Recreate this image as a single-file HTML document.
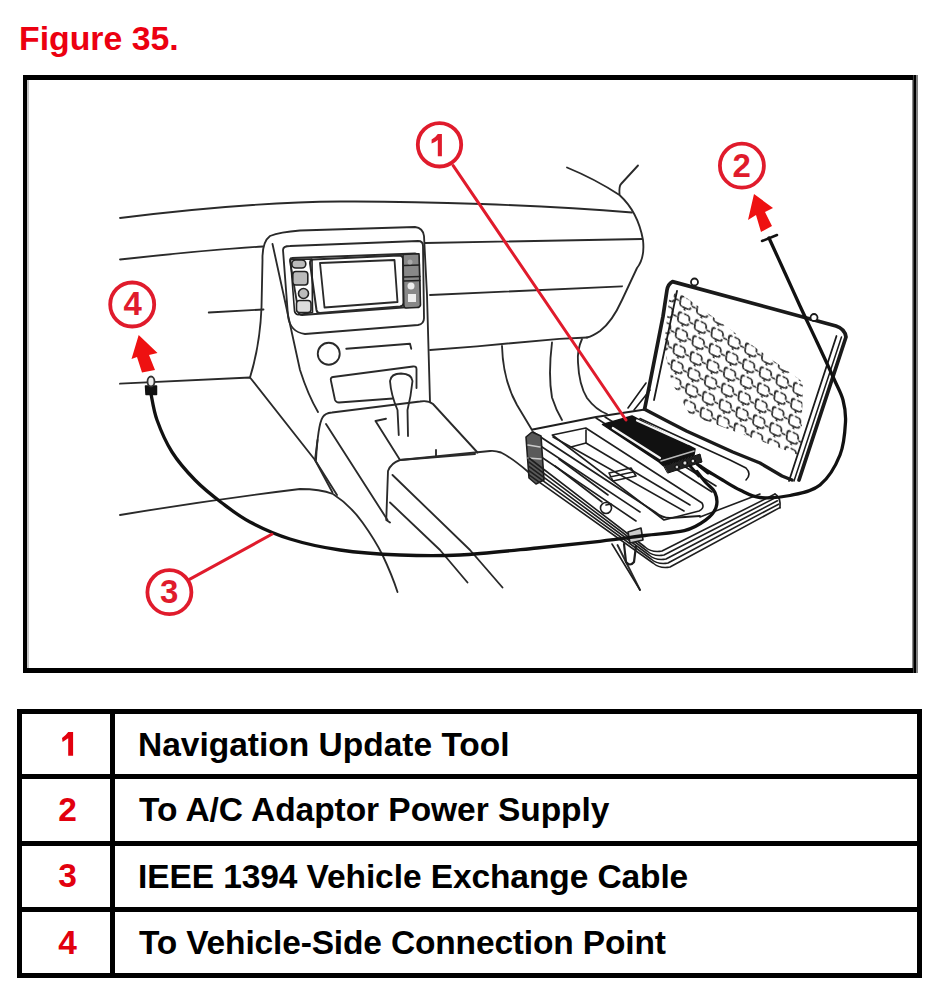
<!DOCTYPE html>
<html><head><meta charset="utf-8">
<style>
html,body{margin:0;padding:0;background:#fff;}
body{width:948px;height:1001px;position:relative;overflow:hidden;font-family:"Liberation Sans",sans-serif;}
.t{position:absolute;font-weight:bold;line-height:1;white-space:nowrap;}
.title{left:19px;top:22px;font-size:33.8px;color:#ec0010;}
.frame{position:absolute;left:23px;top:75px;width:887px;height:590px;border:4px solid #000;border-right-width:4px;}
.tb{position:absolute;background:#000;}
.num{position:absolute;left:22px;width:91px;text-align:center;color:#e2000e;font-size:33.5px;font-weight:bold;line-height:1;}
.lbl{position:absolute;left:138px;color:#000;font-size:33.5px;font-weight:bold;line-height:1;white-space:nowrap;}
svg{position:absolute;left:0;top:0;}
</style></head><body>
<div class="t title">Figure 35.</div>
<div class="tb" style="left:23px;top:75px;width:895px;height:5px"></div>
<div class="tb" style="left:23px;top:668px;width:895px;height:5px"></div>
<div class="tb" style="left:23px;top:75px;width:4px;height:598px"></div>
<div class="tb" style="left:27px;top:80px;width:2px;height:588px;background:#c4c4c4"></div>
<div class="tb" style="left:912px;top:80px;width:1px;height:588px;background:#8a8a8a"></div>
<div class="tb" style="left:913px;top:75px;width:1px;height:598px;background:#404040"></div>
<div class="tb" style="left:914px;top:75px;width:2px;height:598px"></div>
<div class="tb" style="left:916px;top:75px;width:2px;height:598px;background:#808080"></div>
<!-- table lines -->
<div class="tb" style="left:17px;top:709px;width:905px;height:5px"></div>
<div class="tb" style="left:17px;top:973px;width:905px;height:5px"></div>
<div class="tb" style="left:17px;top:709px;width:5px;height:269px"></div>
<div class="tb" style="left:917px;top:709px;width:5px;height:269px"></div>
<div class="tb" style="left:110px;top:709px;width:5px;height:269px"></div>
<div class="tb" style="left:17px;top:774px;width:905px;height:5px"></div>
<div class="tb" style="left:17px;top:841px;width:905px;height:5px"></div>
<div class="tb" style="left:17px;top:907px;width:905px;height:5px"></div>
<svg style="position:absolute;left:0;top:0" width="948" height="1001"><path d="M68.2,732 L73.1,732 L73.1,755.8 L68.2,755.8 L68.2,738.3 L62.6,742 L62,738 Q66,735.2 68.2,732 Z" fill="#e2000e"/></svg>
<div class="num" style="top:793.2px">2</div>
<div class="num" style="top:859.4px">3</div>
<div class="num" style="top:926px">4</div>
<div class="lbl" style="top:727.6px">Navigation Update Tool</div>
<div class="lbl" style="top:793.2px;left:139px;letter-spacing:-0.04px">To A/C Adaptor Power Supply</div>
<div class="lbl" style="top:859.6px;letter-spacing:-0.09px">IEEE 1394 Vehicle Exchange Cable</div>
<div class="lbl" style="top:926.3px;left:139px;letter-spacing:-0.155px">To Vehicle-Side Connection Point</div>
<svg width="948" height="1001" viewBox="0 0 948 1001" fill="none" stroke="#000" stroke-linecap="round" stroke-linejoin="round">
<defs>
<pattern id="keys" patternUnits="userSpaceOnUse" width="20" height="20" patternTransform="matrix(0.84 0.39 -0.11 0.8 679 291)">
<path d="M6,4 Q3,4 3,8 L3,13 Q3,16.5 6,16.5 L12,16.5 Q15,16.5 15.5,14 M16,9 L16,7 Q15.5,4 13,4 L10,4 M17.5,11 L20,11 M0,11 L0.5,11 M9,18.5 L9,20" fill="none" stroke="#2a2a2a" stroke-width="2.1" stroke-dasharray="6 2"/>
</pattern>
</defs>
<g stroke="#2a2a2a" stroke-width="1.85">
<!-- dashboard lines -->
<path d="M120,218 C200,208 280,202 340,201.5 C420,201 540,205 632,212.5"/>
<path d="M120,259.5 C170,254 220,249 263,246.5"/>
<path d="M425,243 L642,239"/>
<path d="M208.75,312.5 L263.5,309.5"/>
<path d="M430,295 L622,286.3"/>
<path d="M430,350 L477,346.3 L559.5,338.8 L587,337.5"/>
<path d="M567,167.5 Q595,179 619.5,195 Q638,212 643,240 Q645,258 637,268 L622,300 Q612,322 600,331 Q593,336 587,337.5"/>
<path d="M619.5,194 Q619,186 621,184 L638,165.5"/>
<path d="M502,346 Q503,380 517,405 L532,430"/>
<path d="M552,342.5 Q548,375 552,397.5 Q556,410 562,420"/>
<path d="M582,339 Q577,350 578,362.5 Q579,385 587,398 Q596,410 607,414"/>
<!-- console -->
<path d="M250,377.5 Q260,345 261.5,307.5 L262.5,260 Q262,242 270,236 Q280,232 300,230.5 L415,227 Q423,228 424,236 L427,295 L430,402"/>
<path d="M120,383.7 L250,377.5 L315,460 L337,495"/>
<path d="M272.5,244 Q285,300 300,370 Q308,395 318,412"/>
<path d="M283,250 L288,316 Q290,332 305,334 L418,325 Q424,324 424,318 L423,246 Q423,241 418,241 L290,246 Q283,246 283,250 Z"/>
<path d="M292,258 L415,253.5 Q419,254 419,258 L420,303 Q420,306 416,306.5 L302,315 Q299,315 298.5,312 L290,261 Q290,258 292,258 Z"/>
<path d="M313,259.5 L399,255.5 Q403,255.5 403,259 L403.5,303 Q403.5,306 400,306.5 L320,313 Q317,313 316.5,310 L310,263 Q310,259.5 313,259.5 Z" stroke-width="2"/>
<path d="M320,263 L394.5,260 L397.5,302 L324.5,307.5 Z"/>
<g stroke="#222" stroke-width="1.6" fill="#bbb">
<path d="M290.5,259.5 L312,259 L312.5,312.5 L298,314.7 Q295,314 294.5,311 Z" fill="none"/>
<rect x="291.8" y="260" width="14" height="8" rx="4"/>
<rect x="292.8" y="271.5" width="15" height="13.5" rx="3"/>
<circle cx="303.5" cy="293.5" r="5"/>
<rect x="296.5" y="300.5" width="14.5" height="12" rx="3" fill="#ddd"/>
<path d="M403,254.5 L419,253.8 L420.5,305 Q420,307.5 417,307.5 L406,308 Q404,308 403.8,305 Z" fill="#888"/>
<path d="M404,265.5 L419.5,265 M404,277 L420,276.5 M404,281 L420,280.5" stroke-width="1.4"/>
<circle cx="411" cy="286" r="3.5" fill="#eee" stroke="none"/>
<rect x="408" y="294" width="8" height="8" fill="#eee" stroke="none"/>
<circle cx="410" cy="262" r="2.5" fill="#aaa" stroke="none"/>
</g>
<circle cx="328.75" cy="353.75" r="11"/>
<path d="M346.25,348.75 L410,343.75 L411.25,348.75"/>
<path d="M393,398.5 L339,402.5 Q336,402.5 335,400 L331,381 Q330,377.5 333,377 L413,366.5 Q416.5,366 416.5,369 L416.5,388"/>
<path d="M398.75,435 L397.5,410 Q391,395 390,381 Q391,373.5 401,373.5 Q412,374 412.5,381 Q411,396 407.5,410 L408,436"/>
<path d="M316,460 Q318,425 322.5,417.5 Q325,413 332,412.5 L420,401.5 Q428,400 433,404 L477.5,452.5"/>
<path d="M326,424 L387.5,520"/>
<path d="M386,418.75 L375.5,421 L400,460 L475,454"/>
<path d="M528.6,472.2 Q512,458 501,452.5 Q495,450.5 490,451 L400,460 Q391,463 388,471 L386.25,520 L390,522.5"/>
<path d="M436,450 L436,456"/>
<path d="M392.5,475 L470,550 L502.5,587.5"/>
<path d="M390,502.5 L440,550 L467.5,582.5"/>
<path d="M120,515 Q210,500 300,489 Q320,489 333,494 Q350,505 362.5,522.5 Q375,540 382.5,555 Q392,575 397.5,592"/>
<path d="M317.5,440 L315,460 L332.5,492.5"/>
<path d="M617.5,545 L640,590"/>
</g>
<!-- laptop lid -->
<path d="M677,291 L803,382 L801,456 L690,415 L672,383 L664,347 L669,300 Z" fill="url(#keys)" stroke="none"/>
<g stroke="#1a1a1a">
<path d="M644.6,409.2 L649.3,386 L663,316.4 L667,290 Q668,284 672.5,281.6 L836,326 Q845,329 846,337 L799,480" stroke-width="3.7"/>
<path d="M677,291 L654,400" stroke-width="1.8"/>
<path d="M836.5,336 L789,481" stroke-width="1.8"/>
<path d="M841.5,337 L794,481" stroke-width="1.5"/>
<path d="M644.6,409.2 Q665,420 686.4,431 L732.8,452 L760,463 L782,476 L792,480" stroke-width="3.4"/>
<path d="M640,418.5 Q660,428 684,439 L730,460 L746,468 Q752,474 746,480" stroke-width="1.6"/>
<circle cx="694.5" cy="282" r="3.5" stroke-width="1.8" fill="#fff"/>
<circle cx="814" cy="317.5" r="3.5" stroke-width="1.8" fill="#fff"/>
<path d="M628,408 L646,383 M634,410 L650,390" stroke-width="1.6"/>
</g>
<!-- laptop base -->
<g stroke="#1e1e1e" stroke-width="1.6">
<path d="M532.7,429.5 L596,417 L645,409.5" stroke-width="2.2"/>
<path d="M533,432 L600,476 L655,512 Q662,518 670,518 L700,516" stroke-width="1.8"/>
<path d="M552.3,435 L585.8,428 L702,503 Q705,508 699,511 L664,520 Z"/>
<path d="M586,430 L586,443 L571,447"/>
<path d="M571,447 L684,511"/>
<path d="M586,443 L690,505"/>
<path d="M553,437 L571,447"/>
<path d="M609,473 L631,468 L636,476 L613,481 Z M610,477 L633,472"/>
<path d="M596,418 L712,492" />
<path d="M605,417 L716,486" />
<path d="M533,441 L640,512"/>
<path d="M531,450 L636,521"/>
<path d="M555,466 L602,502 M559,459 L608,495"/>
<circle cx="606" cy="508" r="5.5" fill="#fff"/>
<path d="M606,505 L611,504"/>
<path d="M526,437 L532,432 L541,436 L544,480 L536,484 L529,478 Z" fill="#5a5a5a" stroke-width="1.6"/>
<path d="M528,445 L540,447 M528,458 L541,459" stroke="#ccc" stroke-width="1.5"/>
<path d="M529,458.0 L645.0,547.0 Q652.0,553.0 662.0,551.0 L775.0,494.0"/>
<path d="M529,462.2 L647.0,551.0 Q654.0,557.0 664.0,555.0 L776.2,497.4"/>
<path d="M529,466.4 L649.0,555.0 Q656.0,561.0 666.0,559.0 L777.4,500.8"/>
<path d="M529,470.6 L651.0,559.0 Q658.0,565.0 668.0,563.0 L778.6,504.2"/>
<path d="M529,474.8 L653.0,563.0 Q660.0,569.0 670.0,567.0 L779.8,507.6"/>
<path d="M775,494 Q781,497 780,508"/>
<path d="M700,517 L760,494"/>
<path d="M612,544 L640,590"/>
<path d="M624,544 L626,562 Q630,567 634,562 L636,546" stroke-width="2.2"/><path d="M628,532 L641,528 L643,540 L630,543 Z" fill="#ccc"/>
</g>
<!-- tool -->
<path d="M602.5,424.5 L632,416 L695,449 L694,455 L663,465.5 L659,462 Z" fill="#111" stroke="#111" stroke-width="1.5"/>
<path d="M612.8,428 L660,458 M637,420.5 L688,443.5" stroke="#f4f4f4" stroke-width="2.2"/>
<path d="M661,461 L694,451" stroke="#bbb" stroke-width="1.5"/>
<path d="M664,466 L700,454 L702,462 L668,473 Z" fill="#222" stroke="#111" stroke-width="1"/>
<circle cx="685" cy="463" r="2.2" fill="#ddd"/><circle cx="693" cy="461" r="2" fill="#ddd"/><circle cx="677" cy="467" r="2" fill="#ccc"/>
<path d="M690,466 L699,476 M697,464 L708,473" stroke="#111" stroke-width="3"/>
<!-- cables -->
<g stroke="#111" stroke-width="3.3">
<path d="M769.0,238.0 C771.7,243.8 779.8,261.7 785.0,273.0 C790.2,284.3 794.7,294.5 800.0,306.0 C805.3,317.5 811.3,329.8 817.0,342.0 C822.7,354.2 829.7,369.3 834.0,379.0 C838.3,388.7 841.1,392.8 843.0,400.0 C844.9,407.2 846.0,412.8 845.5,422.0 C845.0,431.2 844.2,444.5 840.0,455.0 C835.8,465.5 828.3,478.2 820.0,485.0 C811.7,491.8 800.0,493.4 790.0,495.5 C780.0,497.6 768.3,498.4 760.0,497.5 C751.7,496.6 746.2,492.9 740.0,490.0 C733.8,487.1 727.5,482.9 722.5,480.0 C717.5,477.1 713.8,474.8 710.0,472.5 C706.2,470.2 701.7,467.1 700.0,466.0"/>
<path d="M151.0,394.0 C152.0,398.3 153.5,410.3 157.0,420.0 C160.5,429.7 165.7,442.0 172.0,452.0 C178.3,462.0 186.7,471.5 195.0,480.0 C203.3,488.5 212.8,496.0 222.0,503.0 C231.2,510.0 238.7,516.0 250.0,522.0 C261.3,528.0 275.0,534.3 290.0,539.0 C305.0,543.7 321.7,547.3 340.0,550.0 C358.3,552.7 380.0,554.2 400.0,555.0 C420.0,555.8 437.2,556.2 460.0,555.0 C482.8,553.8 513.7,550.3 537.0,548.0 C560.3,545.7 582.0,543.4 600.0,541.3 C618.0,539.2 630.9,537.3 645.0,535.5 C659.1,533.7 674.3,533.2 684.4,530.7 C694.5,528.2 700.2,524.1 705.5,520.2 C710.8,516.3 714.4,512.1 716.0,507.5 C717.6,502.9 716.8,496.9 715.0,492.7 C713.2,488.5 708.5,485.7 705.5,482.2 C702.5,478.7 698.4,473.4 697.0,471.6"/>
<path d="M762,241 L777,235" stroke-width="2.5"/>
<path d="M145.5,386 L156.5,386 L156.5,394.5 L146,394.5 Z" fill="#111" stroke-width="1.5"/>
</g>
<ellipse cx="151" cy="381.5" rx="3.5" ry="5" fill="#eee" stroke="#333" stroke-width="1.8"/>
<!-- callouts -->
<path d="M437.8,134 L441.9,134 L441.9,156.2 L437.8,156.2 L437.8,140 Q435,142.5 431.6,143.5 L431.6,139.6 Q435.5,137.5 437.8,134 Z" fill="#e01b2c" stroke="none"/>
<g stroke="#e01b2c" fill="none" stroke-width="3.8">
<circle cx="439.5" cy="144.8" r="21.7"/>
<circle cx="741.9" cy="165.7" r="22"/>
<circle cx="169.4" cy="592.2" r="22"/>
<circle cx="132.2" cy="304.5" r="22"/>
<path d="M453.2,165.7 L626,420" stroke-width="3"/>
<path d="M189.9,579.1 L271.8,534.3" stroke-width="3"/>
</g>
<g fill="#ee1111" stroke="none">
<path d="M754,194 L773,208 L765,212 L772,226 L761,232 L756,215 L748,220 Z"/>
<path d="M138.7,335 L157.5,353 L149,355 L155,370 L142,372.5 L137,357 L131.5,359 Z"/>
</g>
<g fill="#e01b2c" stroke="none" font-family="Liberation Sans" font-weight="bold" font-size="33" text-anchor="middle">

<text x="741.7" y="176.5">2</text>
<text x="169.3" y="602.8">3</text>
<text x="132.6" y="315.2">4</text>
</g>
</svg>
</body></html>
